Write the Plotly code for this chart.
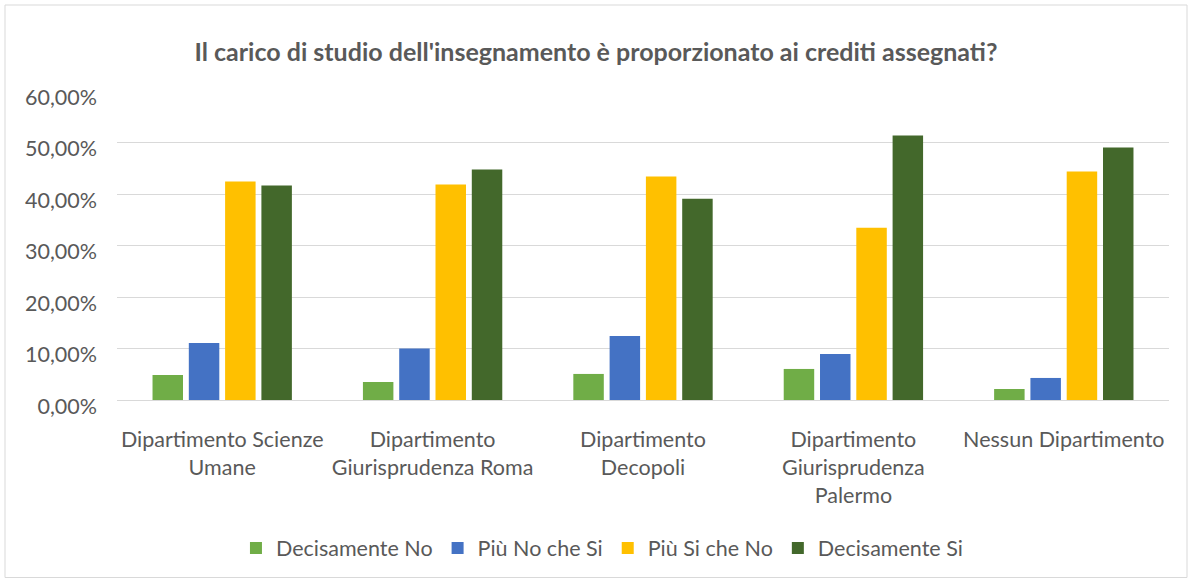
import plotly.graph_objects as go

categories = [
    "Dipartimento Scienze<br>Umane",
    "Dipartimento<br>Giurisprudenza Roma",
    "Dipartimento<br>Decopoli",
    "Dipartimento<br>Giurisprudenza<br>Palermo",
    "Nessun Dipartimento",
]
series_names = ["Decisamente No", "Più No che Si", "Più Si che No", "Decisamente Si"]
decisamente_no = [0.0486, 0.0350, 0.0506, 0.0603, 0.0214]
piu_no_che_si = [0.1109, 0.0999, 0.1245, 0.0895, 0.0428]
piu_si_che_no = [0.4241, 0.4183, 0.4339, 0.3346, 0.4436]
decisamente_si = [0.4163, 0.4475, 0.3910, 0.5136, 0.4903]
colors = ["#70AD47", "#4472C4", "#FFC000", "#43682B"]
y_ticks = [0, 0.1, 0.2, 0.3, 0.4, 0.5, 0.6]

W, H = 1192, 579
ml, mr, mt, mb = 117, 23, 91, 179

fig = go.Figure()
for name, vals, col in zip(series_names,
                           [decisamente_no, piu_no_che_si, piu_si_che_no, decisamente_si],
                           colors):
    fig.add_trace(go.Bar(x=categories, y=vals, name=name, marker_color=col,
                         marker_line_width=0))

FONT = "Lato, 'Open Sans', sans-serif"
TXT = "#595959"
fig.update_layout(
    width=W, height=H,
    margin=dict(l=ml, r=mr, t=mt, b=mb),
    paper_bgcolor="white", plot_bgcolor="white",
    separators=",.",
    barmode="group", bargap=0.31, bargroupgap=0.16,
    font=dict(family=FONT, color=TXT, size=21.5),
    title=dict(text="<b>Il carico di studio dell'insegnamento è proporzionato ai crediti assegnati?</b>",
               x=0.5, xref="container", xanchor="center", y=1 - 52 / H, yanchor="middle",
               font=dict(family=FONT, size=25, color=TXT)),
    legend=dict(orientation="h", x=0.505, xref="container", xanchor="center",
                y=1 - 548 / H, yref="container", yanchor="middle",
                font=dict(size=21.5, color=TXT), itemwidth=30, traceorder="normal"),
    yaxis=dict(range=[0, 0.6], tickvals=y_ticks, tickformat=".2%",
               showgrid=True, gridcolor="#D9D9D9", gridwidth=1,
               zeroline=True, zerolinecolor="#D9D9D9", zerolinewidth=1,
               showline=False, ticks="", ticklabelstandoff=19, ticklabelshift=6,
               tickfont=dict(size=21.5, color=TXT)),
    xaxis=dict(showline=True, linecolor="#D9D9D9", linewidth=1, ticks="",
               ticklabelstandoff=20,
               tickfont=dict(size=21.5, color=TXT), tickangle=0),
)

pw = W - ml - mr
ph = H - mt - mb
fig.add_shape(type="rect", xref="paper", yref="paper",
              x0=(-ml + 5) / pw, x1=1 + (mr - 5) / pw,
              y0=(-mb + 1.5) / ph, y1=1 + (mt - 5) / ph,
              line=dict(color="#D9D9D9", width=1), fillcolor="rgba(0,0,0,0)", layer="below")

fig.write_html("out.html", config={"displayModeBar": False},
               post_script="document.body.style.margin='0';document.body.style.overflow='hidden';")
